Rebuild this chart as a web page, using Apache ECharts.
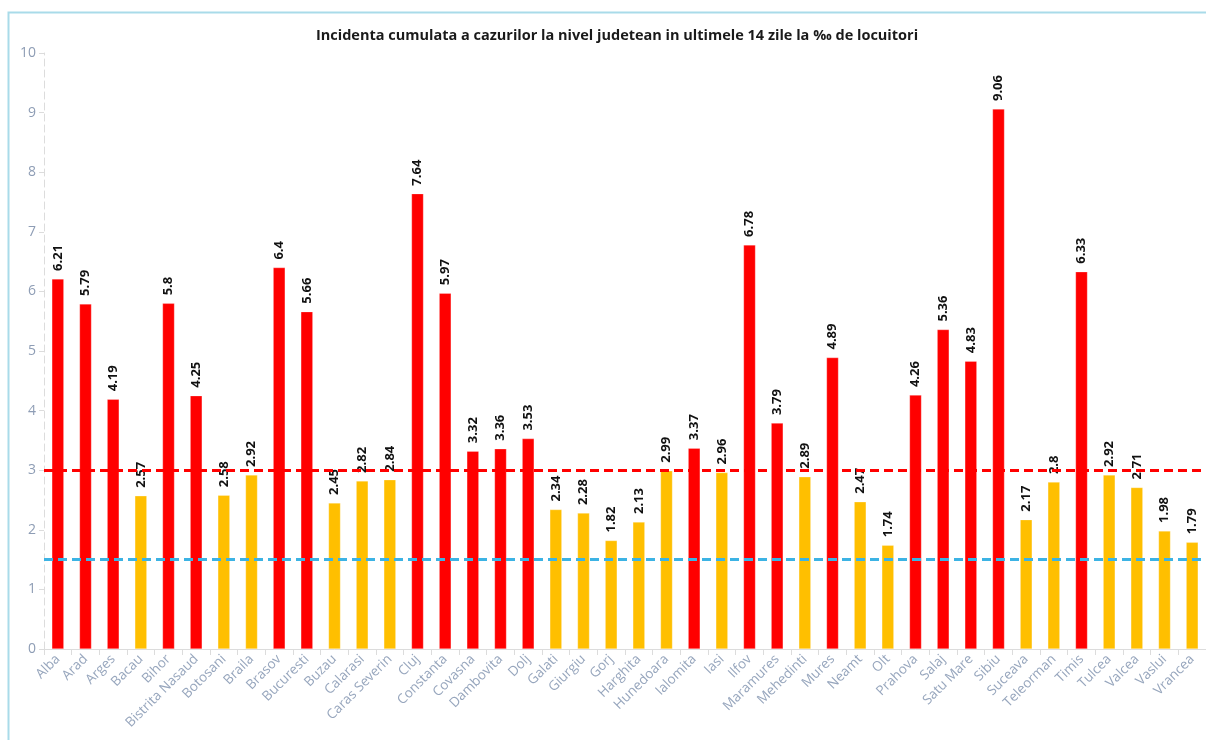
<!DOCTYPE html>
<html>
<head>
<meta charset="utf-8">
<script src="https://cdn.jsdelivr.net/npm/echarts@6/dist/echarts.min.js"></script>
<style>
html,body{margin:0;padding:0;background:#fff;overflow:hidden;}
#chart{width:1206px;height:740px;}
</style>
</head>
<body>
<div id="chart"></div>
<script>
const titleText = "Incidenta cumulata a cazurilor la nivel judetean in ultimele 14 zile la ‰ de locuitori";
const counties = ["Alba","Arad","Arges","Bacau","Bihor","Bistrita Nasaud","Botosani","Braila","Brasov","Bucuresti","Buzau","Calarasi","Caras Severin","Cluj","Constanta","Covasna","Dambovita","Dolj","Galati","Giurgiu","Gorj","Harghita","Hunedoara","Ialomita","Iasi","Ilfov","Maramures","Mehedinti","Mures","Neamt","Olt","Prahova","Salaj","Satu Mare","Sibiu","Suceava","Teleorman","Timis","Tulcea","Valcea","Vaslui","Vrancea"];
const incidence = [6.21,5.79,4.19,2.57,5.8,4.25,2.58,2.92,6.4,5.66,2.45,2.82,2.84,7.64,5.97,3.32,3.36,3.53,2.34,2.28,1.82,2.13,2.99,3.37,2.96,6.78,3.79,2.89,4.89,2.47,1.74,4.26,5.36,4.83,9.06,2.17,2.8,6.33,2.92,2.71,1.98,1.79];
const redThreshold = 3;
const blueThreshold = 1.5;
const yTicks = [0,1,2,3,4,5,6,7,8,9,10];

const chart = echarts.init(document.getElementById('chart'), null, {renderer:'canvas'});
chart.setOption({
  animation:false,
  backgroundColor:'#fff',
  graphic:[{
    type:'rect', silent:true, z:-1,
    shape:{x:8.5,y:12.5,width:1220,height:760},
    style:{fill:'none',stroke:'#a9dbe9',lineWidth:2}
  }],
  title:{
    text:titleText,
    left:612, top:23, textAlign:'center',
    textStyle:{fontFamily:'Open Sans',fontSize:14.5,fontWeight:'bold',color:'#1a1a1a'}
  },
  grid:{left:44, top:53, width:1166, height:596, containLabel:false},
  xAxis:{
    type:'category',
    data:counties,
    axisLine:{lineStyle:{color:'#dcdcdc',width:1}},
    axisTick:{show:true,length:6,lineStyle:{color:'#dcdcdc'}},
    axisLabel:{rotate:45,interval:0,color:'#97a6bd',fontFamily:'Open Sans',fontSize:13.5,margin:8},
    splitLine:{show:false}
  },
  yAxis:{
    type:'value',
    min:yTicks[0], max:yTicks[yTicks.length-1], interval:1,
    axisLine:{show:true,lineStyle:{color:'#dcdcdc',type:[7,4],width:1}},
    axisTick:{show:true,length:5,lineStyle:{color:'#dcdcdc'}},
    axisLabel:{color:'#8e9db5',fontFamily:'Open Sans',fontSize:14,margin:8},
    splitLine:{show:false}
  },
  series:[{
    type:'bar',
    data:incidence,
    barWidth:12,
    itemStyle:{
      color:function(p){return p.value>=redThreshold?'#ff0000':'#ffbf00';},
      borderColor:'rgba(255,255,255,0.5)',borderWidth:0.5
    },
    label:{
      show:true, position:'top', rotate:90, align:'left', verticalAlign:'middle',
      distance:8, fontFamily:'Open Sans', fontSize:13, fontWeight:'bold', color:'#111'
    },
    markLine:{
      silent:true, symbol:['none','none'], label:{show:false},
      data:[
        {yAxis:redThreshold, lineStyle:{color:'#ff0000',type:[9,5],width:3}},
        {yAxis:blueThreshold, lineStyle:{color:'#3cb3e4',type:[9,5],width:3}}
      ]
    }
  }]
});
</script>
</body>
</html>
